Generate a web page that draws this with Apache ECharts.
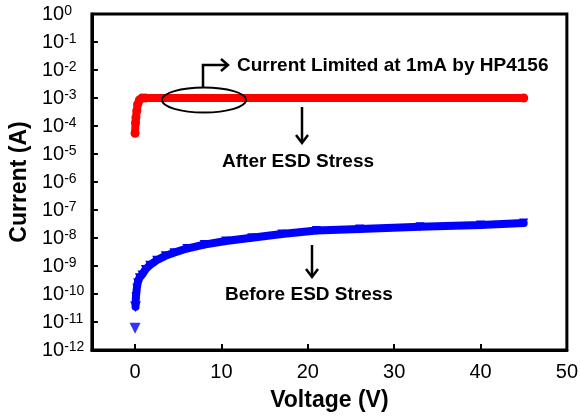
<!DOCTYPE html>
<html>
<head>
<meta charset="utf-8">
<script src="https://cdn.jsdelivr.net/npm/echarts@6/dist/echarts.min.js"></script>
<style>
  html, body { margin: 0; padding: 0; background: #fff; }
  #chart { width: 581px; height: 417px; }
</style>
</head>
<body>
<div id="chart"></div>
<script>
  const xTicks = [0, 10, 20, 30, 40, 50];
  const yTicks = [1e-12, 1e-11, 1e-10, 1e-9, 1e-8, 1e-7, 1e-6, 1e-5, 1e-4, 1e-3, 1e-2, 1e-1, 1];

  // after ESD stress (red, clamped at 1 mA)
  const afterV = [0, 0.05, 0.1, 0.2, 0.3, 0.5, 0.8, 1.2, 45];
  const afterI = [5.5e-5, 1.3e-4, 2e-4, 3.5e-4, 6e-4, 8.5e-4, 1e-3, 1e-3, 1e-3];

  // before ESD stress (blue)
  const beforeV = [0, 0.05, 0.1, 0.2, 0.3, 0.5, 0.8, 1.2, 1.7, 2.5, 3.5, 4.5, 6, 8, 10.5, 13.5, 17, 21, 26, 33, 40, 45];
  const beforeI = [6e-12, 3.5e-11, 8e-11, 1.6e-10, 2.5e-10, 3.8e-10, 4.8e-10, 7.5e-10, 1.07e-9, 1.6e-9, 2.3e-9, 3e-9,
    4.2e-9, 5.8e-9, 7.8e-9, 1.02e-8, 1.4e-8, 1.85e-8, 2.1e-8, 2.5e-8, 2.9e-8, 3.4e-8];

  const font = 'Liberation Sans, Arial, sans-serif';
  const pairs = (xs, ys) => xs.map((x, i) => [x, ys[i]]);

  const myChart = echarts.init(document.getElementById('chart'));

  const beforePts = pairs(beforeV, beforeI);
  const afterPts = pairs(afterV, afterI);

  const noteStyle = { fontFamily: font, fontWeight: 'bold', fontSize: 19, fill: '#000' };

  const options = {
    animation: false,
    backgroundColor: '#fff',
    grid: {
      left: 89, right: 12, top: 14, bottom: 63,
      show: true, borderColor: '#000', borderWidth: 3,
    },
    xAxis: {
      type: 'value',
      min: -5,
      max: 50,
      name: 'Voltage (V)',
      nameLocation: 'middle',
      nameGap: 39,
      nameTextStyle: { fontFamily: font, fontWeight: 'bold', fontSize: 23, color: '#000' },
      axisLine: { lineStyle: { color: '#000', width: 3 } },
      axisTick: { inside: true, length: 6, customValues: xTicks, lineStyle: { color: '#000', width: 2 } },
      axisLabel: { customValues: xTicks, margin: 12, fontFamily: font, fontSize: 20, color: '#000' },
      splitLine: { show: false },
    },
    yAxis: {
      type: 'log',
      logBase: 10,
      min: 1e-12,
      max: 1,
      name: 'Current (A)',
      nameLocation: 'middle',
      nameGap: 56,
      nameTextStyle: { fontFamily: font, fontWeight: 'bold', fontSize: 23, color: '#000' },
      axisLine: { onZero: false, lineStyle: { color: '#000', width: 3 } },
      axisTick: { inside: true, length: 6, customValues: yTicks, lineStyle: { color: '#000', width: 2 } },
      axisLabel: {
        customValues: yTicks,
        align: 'left',
        margin: 50,
        formatter: (v) => '{b|10}{s|' + Math.round(Math.log10(v)) + '}',
        rich: {
          b: { fontFamily: font, fontSize: 20, color: '#000' },
          s: { fontFamily: font, fontSize: 14, color: '#000', verticalAlign: 'top' },
        },
      },
      splitLine: { show: false },
      minorTick: { show: false },
    },
    series: [
      {
        name: 'Before ESD Stress',
        type: 'scatter',
        data: beforePts.slice(0, 2),
        symbol: 'triangle',
        symbolRotate: 180,
        symbolSize: 11,
        itemStyle: { color: '#0000ff' },
      },
      {
        name: 'Before ESD Stress line',
        type: 'line',
        data: beforePts.slice(1),
        symbol: 'triangle',
        symbolRotate: 180,
        symbolSize: 9,
        showAllSymbol: true,
        lineStyle: { color: '#0000ff', width: 8, cap: 'round' },
        itemStyle: { color: '#0000ff' },
      },
      {
        name: 'After ESD Stress',
        type: 'line',
        data: afterPts,
        symbol: 'circle',
        symbolSize: 9,
        showAllSymbol: true,
        lineStyle: { color: '#ff0000', width: 8, cap: 'round', join: 'round' },
        itemStyle: { color: '#ff0000' },
      },
    ],
    graphic: [
      // ellipse round the clamp + bent arrow to the note
      { type: 'ellipse', shape: { cx: 204, cy: 100, rx: 42, ry: 12.5 }, style: { fill: 'none', stroke: '#000', lineWidth: 2 }, z: 10 },
      { type: 'polyline', shape: { points: [[203, 88], [203, 65], [227, 65]] }, style: { stroke: '#000', lineWidth: 2.5, fill: 'none' }, z: 10 },
      { type: 'polyline', shape: { points: [[221, 59], [228, 65], [221, 71]] }, style: { stroke: '#000', lineWidth: 2.5, fill: 'none' }, z: 10 },
      { type: 'text', left: 237, top: 56, style: Object.assign({ text: 'Current Limited at 1mA by HP4156' }, noteStyle), z: 10 },
      // after ESD note
      { type: 'line', shape: { x1: 302, y1: 107, x2: 302, y2: 142 }, style: { stroke: '#000', lineWidth: 2.5 }, z: 10 },
      { type: 'polyline', shape: { points: [[296, 135], [302, 143], [308, 135]] }, style: { stroke: '#000', lineWidth: 2.5, fill: 'none' }, z: 10 },
      { type: 'text', left: 222, top: 152, style: Object.assign({ text: 'After ESD Stress' }, noteStyle), z: 10 },
      // before ESD note
      { type: 'line', shape: { x1: 312, y1: 245, x2: 312, y2: 276 }, style: { stroke: '#000', lineWidth: 2.5 }, z: 10 },
      { type: 'polyline', shape: { points: [[306, 269], [312, 277], [318, 269]] }, style: { stroke: '#000', lineWidth: 2.5, fill: 'none' }, z: 10 },
      { type: 'text', left: 225, top: 285, style: Object.assign({ text: 'Before ESD Stress' }, noteStyle), z: 10 },
    ],
  };

  myChart.setOption(options);
</script>
</body>
</html>
